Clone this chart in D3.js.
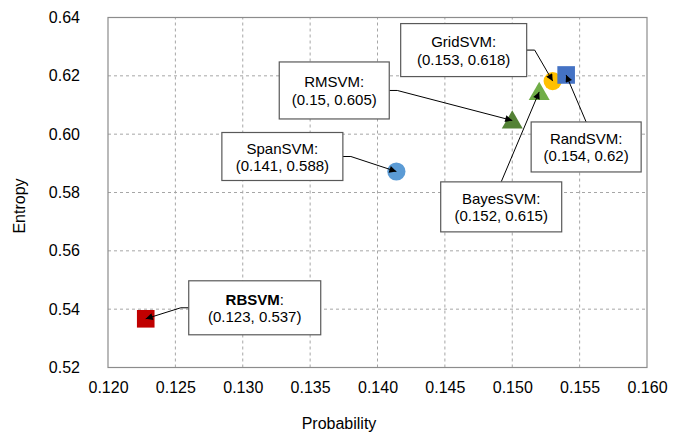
<!DOCTYPE html>
<html>
<head>
<meta charset="utf-8">
<script src="https://d3js.org/d3.v7.min.js"></script>
<style>
  body { margin: 0; background: #fff; }
  svg { font-family: "Liberation Sans", Arial, sans-serif; }
</style>
</head>
<body>
<div id="chart"></div>
<script>
// --- Data ---
var methods = ['RBSVM', 'SpanSVM', 'RMSVM', 'BayesSVM', 'GridSVM', 'RandSVM'];
var probability = [0.1228, 0.1414, 0.1500, 0.1520, 0.1530, 0.1540];
var entropy = [0.5367, 0.5872, 0.6047, 0.6145, 0.6182, 0.6203];
var labelValues = ['(0.123, 0.537)', '(0.141, 0.588)', '(0.15, 0.605)', '(0.152, 0.615)', '(0.153, 0.618)', '(0.154, 0.62)'];
var xTicks = [0.120, 0.125, 0.130, 0.135, 0.140, 0.145, 0.150, 0.155, 0.160];
var yTicks = [0.52, 0.54, 0.56, 0.58, 0.60, 0.62, 0.64];

// marker look per method
var shapes = ['square', 'circle', 'triangle', 'triangle', 'circle', 'square'];
var colors = ['#C00000', '#5B9BD5', '#548235', '#70AD47', '#FFC000', '#4472C4'];

// callout boxes: offset of box centre from the point, box size, side the leader leaves from
var callouts = [
  { dx: 109, dy: -11, w: 132, h: 54, side: 'left' },
  { dx: -114, dy: -15, w: 121, h: 48, side: 'right' },
  { dx: -178, dy: -30, w: 110, h: 57, side: 'right' },
  { dx: -38, dy: 115, w: 121, h: 50, side: 'top' },
  { dx: -89, dy: -31, w: 126, h: 53, side: 'right' },
  { dx: 20, dy: 72, w: 110, h: 50, side: 'top' }
];

var width = 676, height = 435;
var margin = { left: 108, right: 29, top: 17.5, bottom: 67.5 };

var svg = d3.select('#chart').append('svg')
  .attr('width', width)
  .attr('height', height);

var x = d3.scaleLinear().domain([0.12, 0.16]).range([margin.left, width - margin.right]);
var y = d3.scaleLinear().domain([0.52, 0.64]).range([height - margin.bottom, margin.top]);

// arrowhead
svg.append('defs').append('marker')
  .attr('id', 'arrow')
  .attr('viewBox', '0 0 10 10')
  .attr('refX', 10).attr('refY', 5)
  .attr('markerWidth', 9).attr('markerHeight', 7)
  .attr('markerUnits', 'userSpaceOnUse')
  .attr('orient', 'auto')
  .append('path')
  .attr('d', 'M0,0 L10,5 L0,10 Z')
  .attr('fill', '#000');

// grid
var grid = svg.append('g');
grid.selectAll('.vg').data(xTicks.slice(1, -1)).join('line')
  .attr('x1', function(d) { return x(d); }).attr('x2', function(d) { return x(d); })
  .attr('y1', y(0.52)).attr('y2', y(0.64))
  .attr('stroke', '#a6a6a6').attr('stroke-dasharray', '3,3');
grid.selectAll('.hg').data(yTicks.slice(1, -1)).join('line')
  .attr('y1', function(d) { return y(d); }).attr('y2', function(d) { return y(d); })
  .attr('x1', x(0.12)).attr('x2', x(0.16))
  .attr('stroke', '#a6a6a6').attr('stroke-dasharray', '3,3');

// frame
svg.append('rect')
  .attr('x', x(0.12)).attr('y', y(0.64))
  .attr('width', x(0.16) - x(0.12)).attr('height', y(0.52) - y(0.64))
  .attr('fill', 'none').attr('stroke', '#8c8c8c').attr('stroke-width', 1.2);

// axes
var xAxis = svg.append('g')
  .attr('transform', 'translate(0,' + y(0.52) + ')')
  .call(d3.axisBottom(x).tickValues(xTicks).tickFormat(d3.format('.3f')).tickSize(0).tickPadding(14));
var yAxis = svg.append('g')
  .attr('transform', 'translate(' + x(0.12) + ',0)')
  .call(d3.axisLeft(y).tickValues(yTicks).tickFormat(d3.format('.2f')).tickSize(0).tickPadding(28));
[xAxis, yAxis].forEach(function(a) {
  a.select('.domain').remove();
  a.selectAll('text').attr('font-size', 16).attr('fill', '#000')
    .attr('font-family', '"Liberation Sans", Arial, sans-serif');
});

svg.append('text')
  .attr('x', 339).attr('y', 429)
  .attr('text-anchor', 'middle').attr('font-size', 16)
  .text('Probability');
svg.append('text')
  .attr('transform', 'translate(25,206) rotate(-90)')
  .attr('text-anchor', 'middle').attr('font-size', 16)
  .text('Entropy');

// markers
var pts = methods.map(function(m, i) {
  return { name: m, px: x(probability[i]), py: y(entropy[i]), shape: shapes[i], color: colors[i], label: labelValues[i], c: callouts[i] };
});

var sym = { square: d3.symbolSquare, circle: d3.symbolCircle, triangle: d3.symbolTriangle };
var symSize = { square: 310, circle: 260, triangle: 190 };

svg.append('g').selectAll('path').data(pts).join('path')
  .attr('transform', function(d) {
    var off = d.shape === 'triangle' ? 2 : 0;
    return 'translate(' + d.px + ',' + (d.py + off) + ')';
  })
  .attr('d', function(d) { return d3.symbol().type(sym[d.shape]).size(symSize[d.shape])(); })
  .attr('fill', function(d) { return d.color; });

// callouts
var ann = svg.append('g').selectAll('g').data(pts).join('g');

ann.append('path')
  .attr('d', function(d) {
    var cx = d.px + d.c.dx, cy = d.py + d.c.dy;
    var sx, sy, ex, ey;
    if (d.c.side === 'right') { sx = cx + d.c.w / 2; sy = cy; ex = sx + 8; ey = cy; }
    else if (d.c.side === 'left') { sx = cx - d.c.w / 2; sy = cy; ex = sx - 8; ey = cy; }
    else { sx = cx; sy = cy - d.c.h / 2; ex = sx; ey = sy; }
    return 'M' + sx + ',' + sy + ' L' + ex + ',' + ey + ' L' + d.px + ',' + d.py;
  })
  .attr('fill', 'none').attr('stroke', '#000').attr('stroke-width', 1)
  .attr('marker-end', 'url(#arrow)');

ann.append('rect')
  .attr('x', function(d) { return d.px + d.c.dx - d.c.w / 2; })
  .attr('y', function(d) { return d.py + d.c.dy - d.c.h / 2; })
  .attr('width', function(d) { return d.c.w; })
  .attr('height', function(d) { return d.c.h; })
  .attr('fill', '#fff').attr('stroke', '#595959').attr('stroke-width', 1.2);

var t1 = ann.append('text')
  .attr('x', function(d) { return d.px + d.c.dx; })
  .attr('y', function(d) { return d.py + d.c.dy - 3; })
  .attr('text-anchor', 'middle').attr('font-size', 15);
t1.append('tspan')
  .attr('font-weight', function(d) { return d.name === 'RBSVM' ? 'bold' : 'normal'; })
  .text(function(d) { return d.name; });
t1.append('tspan').text(':');

ann.append('text')
  .attr('x', function(d) { return d.px + d.c.dx; })
  .attr('y', function(d) { return d.py + d.c.dy + 14.5; })
  .attr('text-anchor', 'middle').attr('font-size', 15)
  .text(function(d) { return d.label; });
</script>
</body>
</html>
